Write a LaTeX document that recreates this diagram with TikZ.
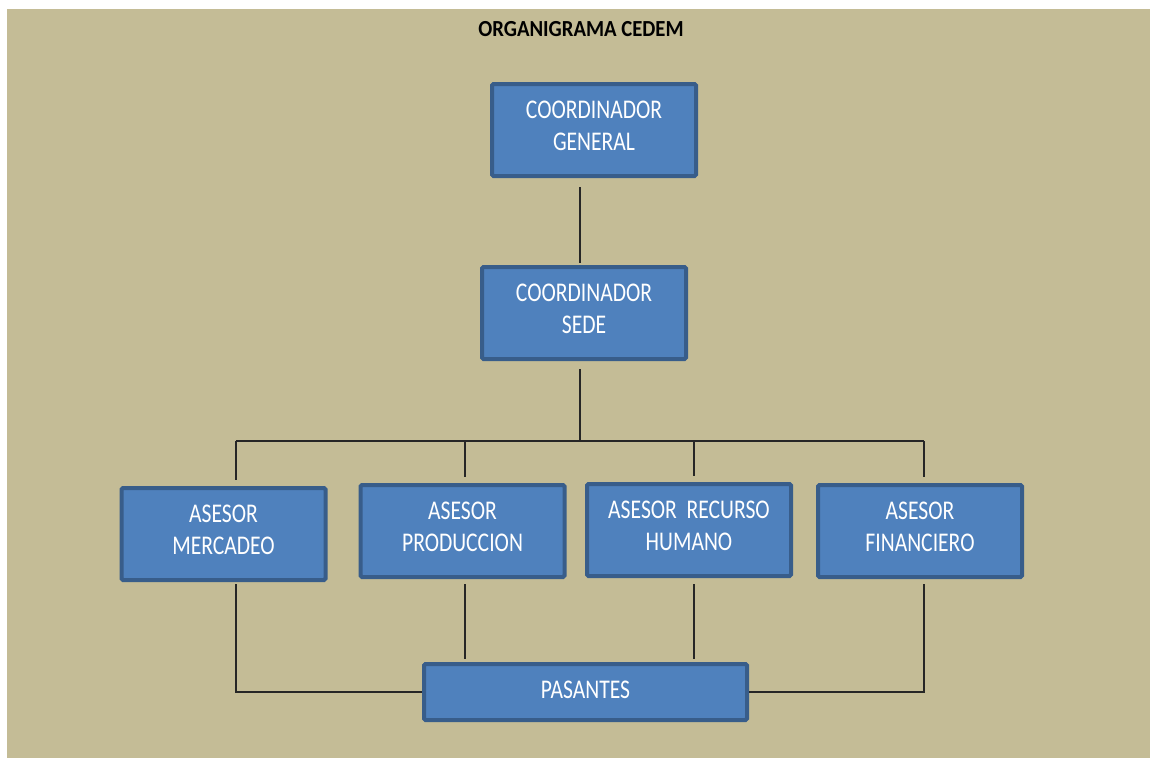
\documentclass[tikz,border=0pt]{standalone}
\usepackage{fontspec}
\setmainfont{Carlito}
\newfontfamily\boxfont[FakeStretch=0.8]{Carlito}
\newfontfamily\titlefont[FakeStretch=0.9]{Carlito}
\usetikzlibrary{positioning}
\definecolor{bg}{HTML}{C4BC96}
\definecolor{boxfill}{HTML}{4F81BD}
\definecolor{boxline}{HTML}{385D8A}

\begin{document}
\begin{tikzpicture}[x=1pt,y=-1pt]
		\tikzstyle{box} = [draw=boxline, fill=boxfill, line width=4, rounded corners=1.5pt, minimum width=204, minimum height=92, inner sep=0, text=white, align=center, font=\boxfont\fontsize{27}{32}\selectfont, text depth=9pt]
		\tikzstyle{link} = [line width=1.3, draw=black!85]
		\useasboundingbox (0,0) rectangle (1150,758);
		\fill [bg] (7,9) rectangle (1150,758);
		\node [inner sep=0, font=\titlefont\bfseries\fontsize{23}{28}\selectfont] (title) at (581,29.5) {ORGANIGRAMA CEDEM};
		\node [box] (gen) at (594,130) {COORDINADOR\\GENERAL};
		\node [box] (sede) at (584,313) {COORDINADOR\\SEDE};
		\node [box] (merc) at (223.5,534) {ASESOR\\MERCADEO};
		\node [box] (prod) at (462.5,531) {ASESOR\\PRODUCCION};
		\node [box] (rrhh) at (689,530) {ASESOR~~RECURSO\\HUMANO};
		\node [box] (fin) at (920,531) {ASESOR\\FINANCIERO};
		\node [box, minimum width=323, minimum height=56, text depth=5pt] (pas) at (585.5,692) {PASANTES};
		\coordinate (bus) at (580,441);
		\coordinate (b1) at (236,441);
		\coordinate (b2) at (465,441);
		\coordinate (b3) at (694,441);
		\coordinate (b4) at (924,441);
		
		\draw [link, shorten <=9pt, shorten >=2pt] (bus |- gen.south) -- (bus |- sede.north);
		\draw [link, shorten <=8pt] (bus |- sede.south) -- (bus);
		\draw [link] (b1) -- (b4);
		\foreach \c/\n in {b1/merc, b2/prod, b3/rrhh, b4/fin}
		{
			\draw [link, shorten >=6pt] (\c) -- (\c |- \n.north);
		}
		\draw [link, shorten <=2pt] (b1 |- merc.south) |- (pas.west);
		\draw [link, shorten <=5pt, shorten >=3pt] (b2 |- prod.south) -- (b2 |- pas.north);
		\draw [link, shorten <=6pt, shorten >=3pt] (b3 |- rrhh.south) -- (b3 |- pas.north);
		\draw [link, shorten <=5pt] (b4 |- fin.south) |- (pas.east);
		\end{tikzpicture}
\end{document}
